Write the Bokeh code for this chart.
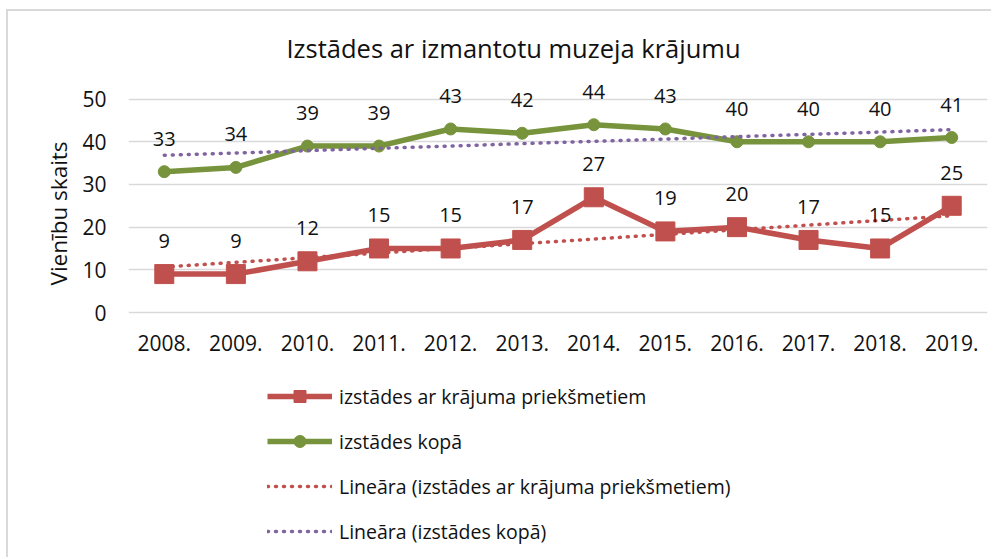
import numpy as np
from bokeh.plotting import figure
from bokeh.models import (ColumnDataSource, FactorRange, Range1d, FixedTicker, Legend,
                          LegendItem, LabelSet, Title)
from bokeh.core.properties import value
from bokeh.embed import file_html
from bokeh.resources import INLINE

years = ["2008.", "2009.", "2010.", "2011.", "2012.", "2013.", "2014.", "2015.",
         "2016.", "2017.", "2018.", "2019."]
with_items = [9, 9, 12, 15, 15, 17, 27, 19, 20, 17, 15, 25]
total = [33, 34, 39, 39, 43, 42, 44, 43, 40, 40, 40, 41]
y_ticks = [0, 10, 20, 30, 40, 50]

name_items = "izstādes ar krājuma priekšmetiem"
name_total = "izstādes kopā"
title_text = "Izstādes ar izmantotu muzeja krājumu"
y_label = "Vienību skaits"

RED = "#C0504D"
GREEN = "#77933C"
PURPLE = "#8064A2"
FONT = "Open Sans"
TXT = "#111111"

# linear trend lines (least squares over category index, as in Excel)
idx = np.arange(1, len(years) + 1)
a1, b1 = np.polyfit(idx, with_items, 1)
a2, b2 = np.polyfit(idx, total, 1)
trend_items = list(a1 * idx + b1)
trend_total = list(a2 * idx + b2)

src = ColumnDataSource(dict(
    x=years, items=with_items, total=total,
    items_lbl=[str(v) for v in with_items], total_lbl=[str(v) for v in total],
    t_items=trend_items, t_total=trend_total))

# layout (pixels in the figure canvas)
W, H = 985, 548
FR_TOP, FR_BOT = 62, 543          # frame extends down so the legend fits inside it
ZERO_Y = 301                      # canvas pixel of value 0
Y_TOP = 56
y_lo = -Y_TOP * (FR_BOT - ZERO_Y) / (ZERO_Y - FR_TOP)

p = figure(width=W, height=H, x_range=FactorRange(*years), y_range=Range1d(y_lo, Y_TOP),
           output_backend="svg", toolbar_location=None,
           min_border_left=120, min_border_right=6, min_border_top=FR_TOP,
           min_border_bottom=H - FR_BOT)
p.styles = {"border-top": "2px solid #d9d9d9", "border-left": "2px solid #d9d9d9",
            "margin-top": "9px", "margin-left": "6px"}

p.title = Title(text=title_text, align="left", text_font=FONT, text_font_size="25.5px",
                text_font_style="normal", text_color=TXT, offset=158, standoff=18)

p.outline_line_color = None
p.xgrid.grid_line_color = None
p.ygrid.grid_line_color = "#d9d9d9"
p.ygrid.grid_line_width = 1.5
p.yaxis.ticker = FixedTicker(ticks=y_ticks)
p.xaxis.fixed_location = 0

for ax in (p.xaxis[0], p.yaxis[0]):
    ax.axis_line_color = None
    ax.major_tick_line_color = None
    ax.minor_tick_line_color = None
    ax.major_tick_out = 0
    ax.major_tick_in = 0
    ax.major_label_text_font = FONT
    ax.major_label_text_font_size = "21px"
    ax.major_label_text_color = TXT
p.xaxis.major_label_standoff = 22
p.yaxis.major_label_standoff = 22

# y-axis title, placed beside the 0..50 part of the axis
p.add_layout(Title(text=y_label, align="left", offset=269, standoff=11, text_font=FONT,
                   text_font_size="22.5px", text_font_style="normal", text_color=TXT), "left")

r_line = p.line("x", "items", source=src, line_color=RED, line_width=5.5, line_join="round")
r_mark = p.scatter("x", "items", source=src, marker="square", size=19, fill_color=RED,
                   line_color=RED)
g_line = p.line("x", "total", source=src, line_color=GREEN, line_width=5.5, line_join="round")
g_mark = p.scatter("x", "total", source=src, marker="circle", size=12, fill_color=GREEN,
                   line_color=GREEN)
t_red = p.line("x", "t_items", source=src, line_color=RED, line_width=3.5,
               line_dash="1 7", line_cap="round")
t_pur = p.line("x", "t_total", source=src, line_color=PURPLE, line_width=3.5,
               line_dash="1 7", line_cap="round")

for col, ycol in (("items_lbl", "items"), ("total_lbl", "total")):
    p.add_layout(LabelSet(x="x", y=ycol, text=col, source=src, y_offset=33,
                          text_align="center", text_baseline="middle",
                          text_font=value(FONT), text_font_size=value("20px"),
                          text_color=TXT))

legend = Legend(items=[
    LegendItem(label=name_items, renderers=[r_line, r_mark]),
    LegendItem(label=name_total, renderers=[g_line, g_mark]),
    LegendItem(label="Lineāra (" + name_items + ")", renderers=[t_red]),
    LegendItem(label="Lineāra (" + name_total + ")", renderers=[t_pur]),
], location=(139, 8), orientation="vertical")
legend.glyph_width = 65
legend.glyph_height = 30
legend.label_height = 30
legend.spacing = 15
legend.padding = 0
legend.margin = 0
legend.label_standoff = 7
legend.label_text_font = FONT
legend.label_text_font_size = "19.5px"
legend.label_text_color = TXT
legend.border_line_color = None
legend.background_fill_alpha = 0
p.add_layout(legend, "center")

open("out.html", "w").write(file_html(p, INLINE))
